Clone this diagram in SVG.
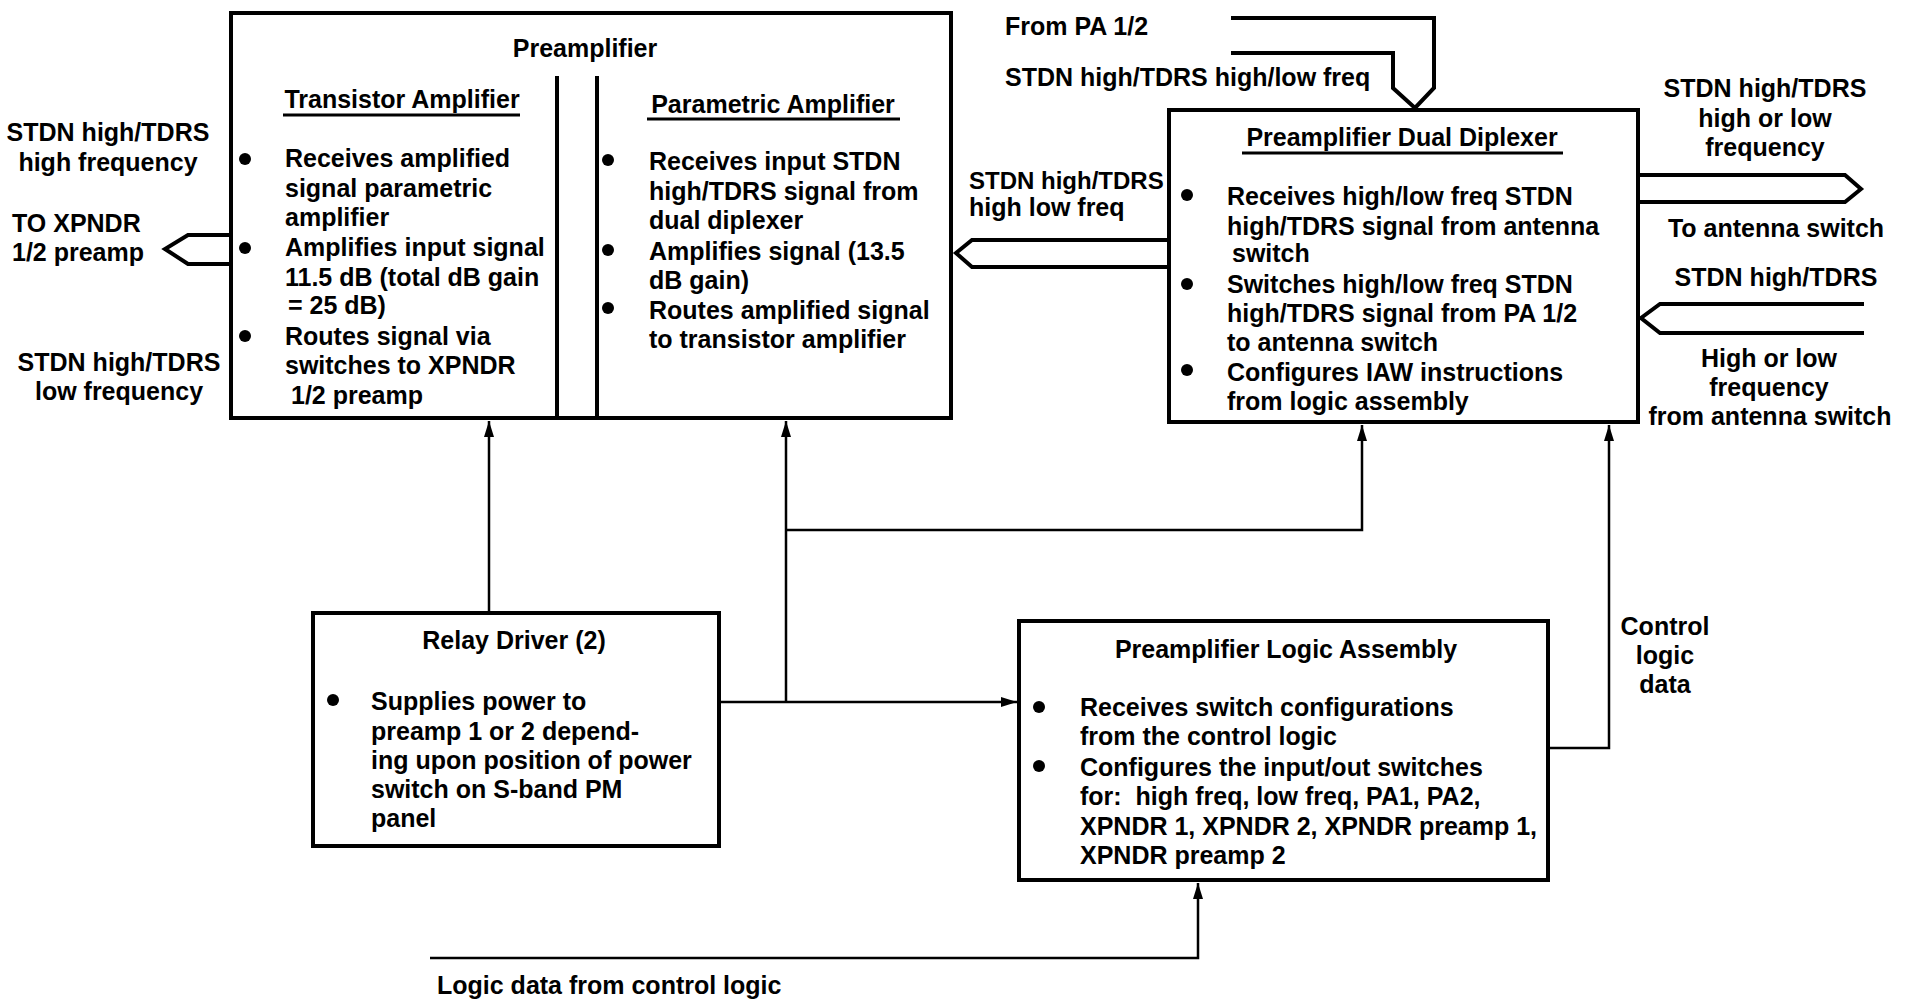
<svg xmlns="http://www.w3.org/2000/svg" width="1920" height="1002" viewBox="0 0 1920 1002">
<defs>
<marker id="arr" markerUnits="userSpaceOnUse" markerWidth="18" markerHeight="12" refX="16" refY="5" orient="auto">
<path d="M0,0 L16,5 L0,10 Z" fill="#000"/>
</marker>
<style>
text{font-family:"Liberation Sans",Arial,sans-serif;font-size:25px;font-weight:bold;fill:#000}
.c{text-anchor:middle}
.s{font-size:24px}
.box{fill:#fff;stroke:#000;stroke-width:4}
.div{stroke:#000;stroke-width:4}
.ul{stroke:#000;stroke-width:3}
.con{fill:none;stroke:#000;stroke-width:2.5}
.hol{fill:none;stroke:#000;stroke-width:4;stroke-linejoin:miter}
.dot{fill:#000}
</style>
</defs>
<rect width="1920" height="1002" fill="#fff"/>

<g id="connectors">
<path class="con" d="M489,612 V421" marker-end="url(#arr)"/>
<path class="con" d="M720,702 H1017" marker-end="url(#arr)"/>
<path class="con" d="M786,702 V421" marker-end="url(#arr)"/>
<path class="con" d="M786,530 H1362 V425" marker-end="url(#arr)"/>
<path class="con" d="M1550,748 H1609 V425" marker-end="url(#arr)"/>
<path class="con" d="M430,958 H1198 V883" marker-end="url(#arr)"/>
<path class="hol" d="M231,235 H188 L165,249 L188,264 H231"/>
<path class="hol" d="M597,238 H572 L559,254 L572,270 H597"/>
<path class="hol" d="M1169,240 H972 L956,253 L972,267 H1169"/>
<path class="hol" d="M1231,18 H1434 V88 L1415,108 L1393,88 V53 H1231"/>
<path class="hol" d="M1638,175 H1845 L1861,189 L1845,202 H1638"/>
<path class="hol" d="M1864,304 H1660 L1641,318 L1660,333 H1864"/>
</g>

<g id="preamplifier">
<rect class="box" x="231" y="13" width="720" height="405"/>
<line class="div" x1="557" y1="76" x2="557" y2="418"/>
<line class="div" x1="597" y1="76" x2="597" y2="418"/>
<text class="c" x="585" y="57">Preamplifier</text>
<text class="c" x="402" y="108">Transistor Amplifier</text>
<line class="ul" x1="283" y1="115" x2="520" y2="115"/>
<circle class="dot" cx="245" cy="159" r="6"/>
<circle class="dot" cx="245" cy="248" r="6"/>
<circle class="dot" cx="245" cy="336" r="6"/>
<text x="285" y="167">Receives amplified</text>
<text x="285" y="197">signal parametric</text>
<text x="285" y="226">amplifier</text>
<text x="285" y="256">Amplifies input signal</text>
<text x="285" y="286">11.5 dB (total dB gain</text>
<text x="288" y="314">= 25 dB)</text>
<text x="285" y="345">Routes signal via</text>
<text x="285" y="374">switches to XPNDR</text>
<text x="291" y="404">1/2 preamp</text>
<text class="c" x="773" y="113">Parametric Amplifier</text>
<line class="ul" x1="647" y1="119" x2="900" y2="119"/>
<circle class="dot" cx="608" cy="160" r="6"/>
<circle class="dot" cx="608" cy="250" r="6"/>
<circle class="dot" cx="608" cy="308" r="6"/>
<text x="649" y="170">Receives input STDN</text>
<text x="649" y="200">high/TDRS signal from</text>
<text x="649" y="229">dual diplexer</text>
<text x="649" y="260">Amplifies signal (13.5</text>
<text x="649" y="289">dB gain)</text>
<text x="649" y="319">Routes amplified signal</text>
<text x="649" y="348">to transistor amplifier</text>
</g>

<g id="dual-diplexer">
<rect class="box" x="1169" y="110" width="469" height="312"/>
<text class="c" x="1402" y="146">Preamplifier Dual Diplexer</text>
<line class="ul" x1="1242" y1="153" x2="1563" y2="153"/>
<circle class="dot" cx="1187" cy="195" r="6"/>
<circle class="dot" cx="1187" cy="284" r="6"/>
<circle class="dot" cx="1187" cy="370" r="6"/>
<text x="1227" y="205">Receives high/low freq STDN</text>
<text x="1227" y="235">high/TDRS signal from antenna</text>
<text x="1232" y="262">switch</text>
<text x="1227" y="293">Switches high/low freq STDN</text>
<text x="1227" y="322">high/TDRS signal from PA 1/2</text>
<text x="1227" y="351">to antenna switch</text>
<text x="1227" y="381">Configures IAW instructions</text>
<text x="1227" y="410">from logic assembly</text>
</g>

<g id="relay-driver">
<rect class="box" x="313" y="613" width="406" height="233"/>
<text class="c" x="514" y="649">Relay Driver (2)</text>
<circle class="dot" cx="333" cy="700" r="6"/>
<text x="371" y="710">Supplies power to</text>
<text x="371" y="740">preamp 1 or 2 depend-</text>
<text x="371" y="769">ing upon position of power</text>
<text x="371" y="798">switch on S-band PM</text>
<text x="371" y="827">panel</text>
</g>

<g id="logic-assembly">
<rect class="box" x="1019" y="621" width="529" height="259"/>
<text class="c" x="1286" y="658">Preamplifier Logic Assembly</text>
<circle class="dot" cx="1039" cy="707" r="6"/>
<circle class="dot" cx="1039" cy="766" r="6"/>
<text x="1080" y="716">Receives switch configurations</text>
<text x="1080" y="745">from the control logic</text>
<text x="1080" y="776">Configures the input/out switches</text>
<text x="1080" y="805" xml:space="preserve">for:  high freq, low freq, PA1, PA2,</text>
<text x="1080" y="835">XPNDR 1, XPNDR 2, XPNDR preamp 1,</text>
<text x="1080" y="864">XPNDR preamp 2</text>
</g>

<g id="labels">
<text class="c" x="108" y="141">STDN high/TDRS</text>
<text class="c" x="108" y="171">high frequency</text>
<text x="12" y="232">TO XPNDR</text>
<text x="12" y="261">1/2 preamp</text>
<text class="c" x="119" y="371">STDN high/TDRS</text>
<text class="c" x="119" y="400">low frequency</text>
<text x="1005" y="35">From PA 1/2</text>
<text x="1005" y="86">STDN high/TDRS high/low freq</text>
<text class="s" x="969" y="189">STDN high/TDRS</text>
<text x="969" y="216">high low freq</text>
<text class="c" x="1765" y="97">STDN high/TDRS</text>
<text class="c" x="1765" y="127">high or low</text>
<text class="c" x="1765" y="156">frequency</text>
<text class="c" x="1776" y="237">To antenna switch</text>
<text class="c" x="1776" y="286">STDN high/TDRS</text>
<text class="c" x="1769" y="367">High or low</text>
<text class="c" x="1769" y="396">frequency</text>
<text class="c" x="1770" y="425">from antenna switch</text>
<text class="c" x="1665" y="635">Control</text>
<text class="c" x="1665" y="664">logic</text>
<text class="c" x="1665" y="693">data</text>
<text x="437" y="994">Logic data from control logic</text>
</g>
</svg>
